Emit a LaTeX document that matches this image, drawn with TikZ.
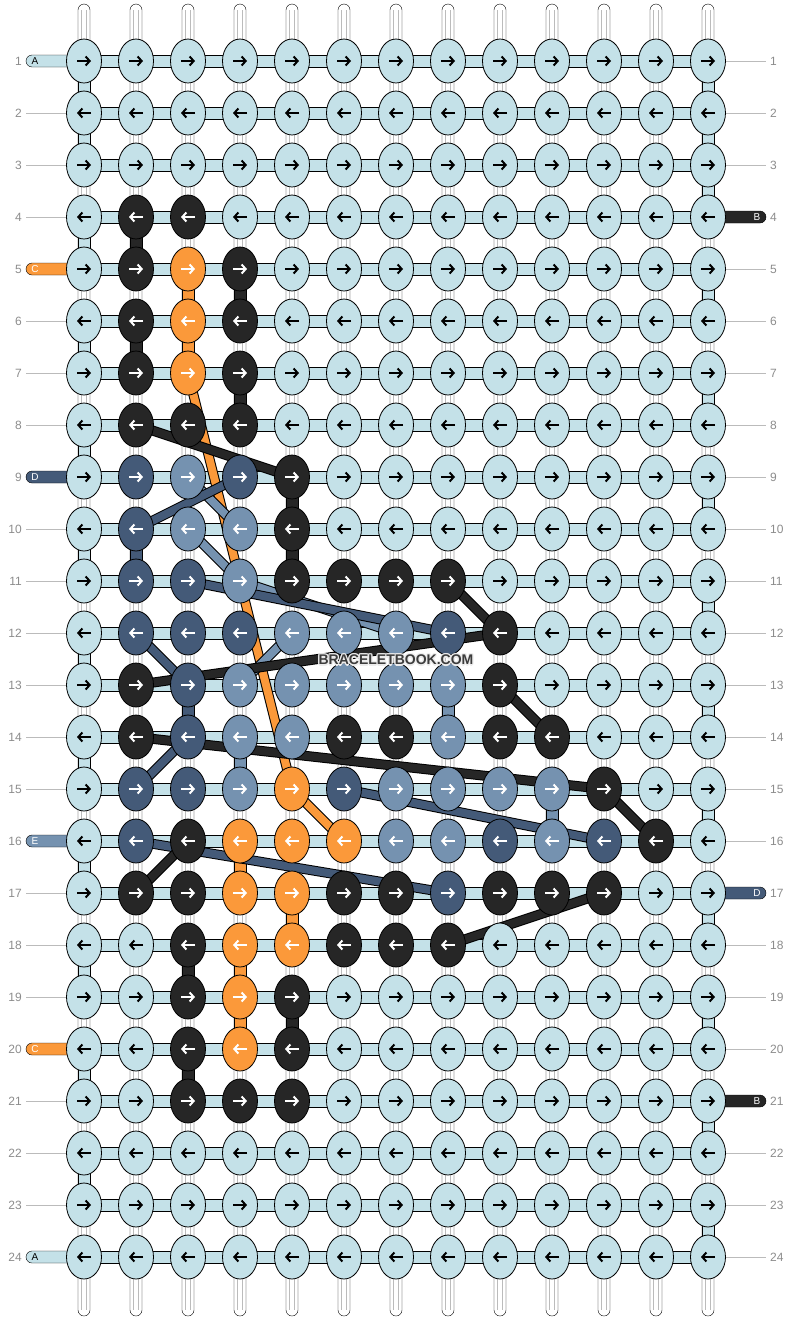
\documentclass[tikz,border=0pt]{standalone}
\usepackage{fontspec}
\setmainfont{Liberation Sans}
\usetikzlibrary{arrows.meta,shapes.geometric}
\pgfdeclarelayer{back}
\pgfsetlayers{back,main}

\definecolor{kL}{HTML}{C4E1E8}
\definecolor{kK}{HTML}{262626}
\definecolor{kO}{HTML}{FB993A}
\definecolor{kD}{HTML}{445A78}
\definecolor{kM}{HTML}{7592B0}
\colorlet{aL}{black}
\colorlet{aK}{white}
\colorlet{aO}{white}
\colorlet{aD}{white}
\colorlet{aM}{white}
\definecolor{guidegray}{HTML}{BBBBBB}
\definecolor{numgray}{HTML}{8C8C8C}
\definecolor{wmgray}{HTML}{3C3C3C}

% filled piece of warp between row #3 and the next one, column #2
\def\vseg[#1](#2:#3){\draw[fill=#1] ({26+52*#2},{9+52*#3}) rectangle ({38+52*#2},{61+52*#3});}
% carried thread from knot to knot
\def\strand[#1](#2)(#3){\draw[line width=10pt] (#2.center) -- (#3.center);
  \draw[line width=8pt, #1] (#2.center) -- (#3.center);}
% thread ends
\def\tailL[#1,#2](#3)#4{\draw[fill=#1, rounded corners=6pt] (26,{3+52*#3}) rectangle (90,{15+52*#3});
  \node[tag, text=#2] at (35,{9+52*#3}) {#4};}
\def\tailR[#1,#2](#3)#4{\draw[fill=#1, rounded corners=6pt] (702,{3+52*#3}) rectangle (766,{15+52*#3});
  \node[tag, text=#2] at (757,{9+52*#3}) {#4};}

\tikzset{
  knot/.style={ellipse, draw, minimum width=35pt, minimum height=44pt, inner sep=0pt},
  arr/.style={line width=2pt, -{Straight Barb[length=4pt,width=9pt]}},
  guide/.style={draw=guidegray, line width=0.8pt},
  warpline/.style={draw=guidegray, line width=0.7pt},
  num/.style={text=numgray, font=\fontsize{12}{13}\selectfont, inner sep=0pt},
  tag/.style={font=\fontsize{10}{11}\selectfont, inner sep=0pt},
  mark text/.style={font=\fontsize{14}{15}\selectfont\bfseries, inner sep=0pt}
}

\begin{document}
\begin{tikzpicture}[x=1pt, y=-1pt, line width=0.8pt]
		%%%%% START %%%%%
		\useasboundingbox (0,0) rectangle (792,1320);
		
		% knots, row by row
		\foreach \r/\row in {
			1/{L,L,L,L,L,L,L,L,L,L,L,L,L},
			2/{L,L,L,L,L,L,L,L,L,L,L,L,L},
			3/{L,L,L,L,L,L,L,L,L,L,L,L,L},
			4/{L,K,K,L,L,L,L,L,L,L,L,L,L},
			5/{L,K,O,K,L,L,L,L,L,L,L,L,L},
			6/{L,K,O,K,L,L,L,L,L,L,L,L,L},
			7/{L,K,O,K,L,L,L,L,L,L,L,L,L},
			8/{L,K,K,K,L,L,L,L,L,L,L,L,L},
			9/{L,D,M,D,K,L,L,L,L,L,L,L,L},
			10/{L,D,M,M,K,L,L,L,L,L,L,L,L},
			11/{L,D,D,M,K,K,K,K,L,L,L,L,L},
			12/{L,D,D,D,M,M,M,D,K,L,L,L,L},
			13/{L,K,D,M,M,M,M,M,K,L,L,L,L},
			14/{L,K,D,M,M,K,K,M,K,K,L,L,L},
			15/{L,D,D,M,O,D,M,M,M,M,K,L,L},
			16/{L,D,K,O,O,O,M,M,D,M,D,K,L},
			17/{L,K,K,O,O,K,K,D,K,K,K,L,L},
			18/{L,L,K,O,O,K,K,K,L,L,L,L,L},
			19/{L,L,K,O,K,L,L,L,L,L,L,L,L},
			20/{L,L,K,O,K,L,L,L,L,L,L,L,L},
			21/{L,L,K,K,K,L,L,L,L,L,L,L,L},
			22/{L,L,L,L,L,L,L,L,L,L,L,L,L},
			23/{L,L,L,L,L,L,L,L,L,L,L,L,L},
			24/{L,L,L,L,L,L,L,L,L,L,L,L,L}} {
			\foreach \c [count=\i] in \row {
				\node[knot, fill=k\c] (k\r-\i) at ({32+52*\i},{9+52*\r}) {};
				\ifodd\r
					\draw[arr, a\c] ({25+52*\i},{9+52*\r}) -- ({39+52*\i},{9+52*\r});
				\else
					\draw[arr, a\c] ({39+52*\i},{9+52*\r}) -- ({25+52*\i},{9+52*\r});
				\fi
			}
		}
		
		\begin{pgfonlayer}{back}
		% warps
		\foreach \c in {1,...,13} {
			\draw[fill=white, rounded corners=6pt] ({26+52*\c},4) rectangle ({38+52*\c},1316);
			\draw[warpline] ({29.5+52*\c},10) -- ({29.5+52*\c},1310);
			\draw[warpline] ({34.5+52*\c},10) -- ({34.5+52*\c},1310);
		}
		
		% threads running straight down
		\foreach \r in {1,3,...,23} {\vseg[kL](13:\r)}
		\foreach \r in {2,4,...,22} {\vseg[kL](1:\r)}
		\vseg[kL](1:1)
		\vseg[kL](13:2)
		\vseg[kK](2:4) \vseg[kK](4:5) \vseg[kK](2:6) \vseg[kK](4:7)
		\vseg[kK](5:9) \vseg[kK](5:10)
		\vseg[kK](3:18) \vseg[kK](5:19) \vseg[kK](3:20)
		\vseg[kO](3:5) \vseg[kO](3:6)
		\vseg[kO](4:16) \vseg[kO](5:17) \vseg[kO](4:18) \vseg[kO](4:19)
		\vseg[kD](2:10) \vseg[kD](3:13)
		\vseg[kM](8:13) \vseg[kM](4:14) \vseg[kM](10:15)
		
		% row numbers
		\foreach \r in {1,...,24} {
			\draw[guide] (26,{9+52*\r}) -- (70,{9+52*\r});
			\draw[guide] (722,{9+52*\r}) -- (766,{9+52*\r});
			\node[num, anchor=east] at (22,{9+52*\r}) {\r};
			\node[num, anchor=west] at (770,{9+52*\r}) {\r};
		}
		
		% thread ends
		\tailL[kL,black](1){A}
		\tailL[kO,white](5){C}
		\tailL[kD,white](9){D}
		\tailL[kM,white](16){E}
		\tailL[kO,white](20){C}
		\tailL[kL,black](24){A}
		\tailR[kK,white](4){B}
		\tailR[kD,white](17){D}
		\tailR[kK,white](21){B}
		
		% rows
		\foreach \r in {1,...,24}
			\draw[fill=kL] (84,{3+52*\r}) rectangle (708,{15+52*\r});
		
		% threads carried across
		\strand[kO](k7-3)(k15-5)
		\strand[kO](k15-5)(k16-6)
		\strand[kM](k9-3)(k10-4)
		\strand[kM](k10-3)(k11-4)
		\strand[kM](k11-4)(k12-7)
		\strand[kM](k12-5)(k13-4)
		\strand[kD](k9-4)(k10-2)
		\strand[kD](k11-3)(k12-8)
		\strand[kD](k12-2)(k13-3)
		\strand[kD](k14-3)(k15-2)
		\strand[kD](k15-6)(k16-11)
		\strand[kD](k16-2)(k17-8)
		\strand[kK](k8-2)(k9-5)
		\strand[kK](k11-8)(k12-9)
		\strand[kK](k12-9)(k13-2)
		\strand[kK](k13-9)(k14-10)
		\strand[kK](k14-2)(k15-11)
		\strand[kK](k15-11)(k16-12)
		\strand[kK](k16-3)(k17-2)
		\strand[kK](k17-11)(k18-8)
		\end{pgfonlayer}
		
		% site mark with a light halo
		\foreach \dx/\dy in {-1.2/0,1.2/0,0/-1.2,0/1.2,-0.9/-0.9,0.9/0.9,-0.9/0.9,0.9/-0.9}
			\node[mark text, text=white!85!gray] at ({396+\dx},{660+\dy}) {BRACELETBOOK.COM};
		\node[mark text, text=wmgray] (wm) at (396,660) {BRACELETBOOK.COM};
		
		%%%%% END %%%%%
\end{tikzpicture}
\end{document}
